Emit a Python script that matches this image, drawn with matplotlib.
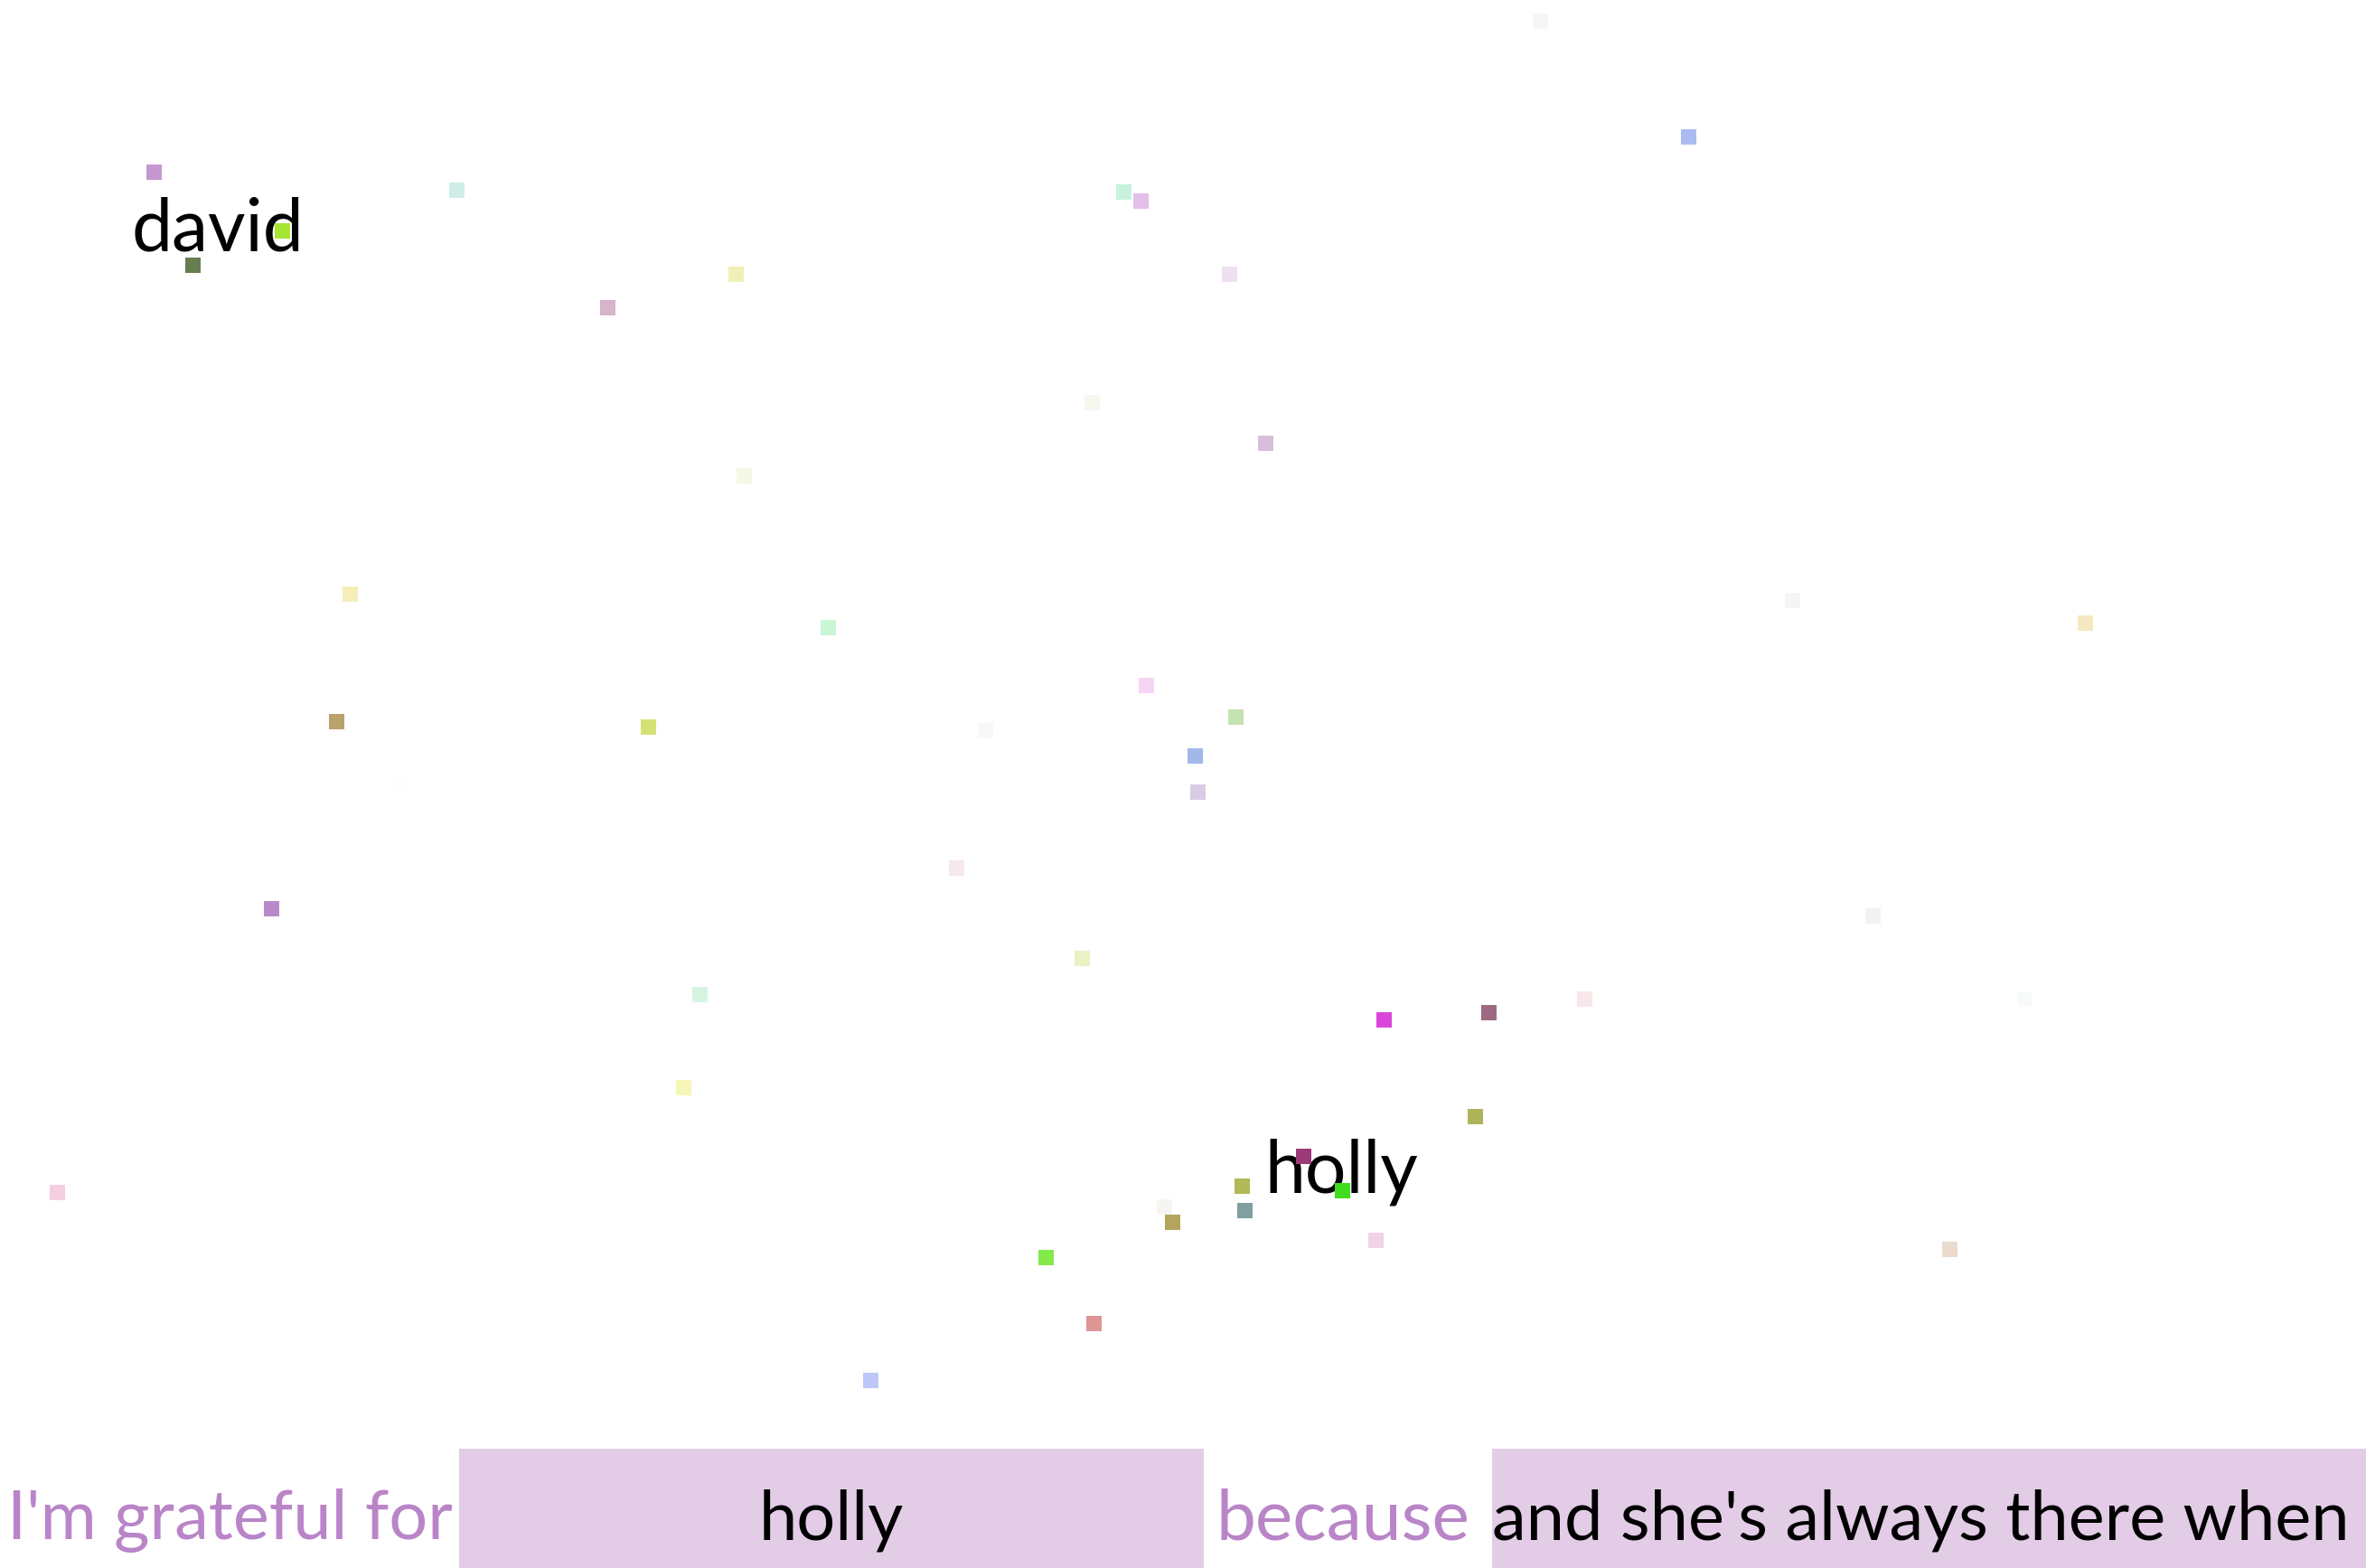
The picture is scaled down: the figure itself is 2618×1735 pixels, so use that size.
import matplotlib
matplotlib.use("Agg")
import matplotlib.pyplot as plt
from matplotlib.patches import Rectangle

# scattered squares, in reference pixel coords (1568 x 1039 canvas)
xs = [1021, 1119, 102, 303, 745, 756, 187, 128, 488, 815, 403, 724, 839, 493,
      232, 1188, 1382, 549, 760, 819, 223, 430, 653, 792, 265, 794, 634, 180,
      1241, 717, 464, 1050, 1342, 917, 987, 978, 453, 864, 823, 890, 38, 772,
      825, 777, 912, 1292, 693, 725, 577]
ys = [14, 91, 114, 126, 127, 133, 153, 176, 182, 182, 204, 267, 294, 315,
      394, 398, 413, 416, 454, 475, 478, 482, 484, 501, 520, 525, 575, 602,
      607, 635, 659, 662, 662, 676, 671, 740, 721, 766, 786, 789, 790, 800,
      802, 810, 822, 828, 833, 877, 915]
colors = ['#f7f5f5', '#aabbf2', '#c797cf', '#d0ece8', '#c7f3dd', '#e2bfe9',
          '#a7e632', '#667e4d', '#eef0b8', '#efdff2', '#d6b4c9', '#f6f8ef',
          '#d6bfd9', '#f6f8e6', '#f5eeb9', '#f5f5f5', '#f4e9c0', '#c9f7d6',
          '#f6d5f4', '#c5e2b1', '#b9a26c', '#d4e174', '#f8f8f8', '#a2b8ea',
          '#fbfefd', '#d7cce2', '#f7e8ee', '#b98ac9', '#f2f2f2', '#e8f2c4',
          '#d5f5e2', '#f8e7e9', '#f9fbfa', '#da46da', '#9c6b83', '#adb45a',
          '#f5f7b6', '#9c3b78', '#b3b859', '#40dc1f', '#f5cedf', '#f7f5f1',
          '#7f9fa0', '#b5a45c', '#f0d3e8', '#eadbcd', '#84ea4a', '#e09595',
          '#bdc8f8']

# name labels
names = ['david', 'holly']
name_x = [144, 889]
name_y = [166, 790]

# sentence at the bottom
prefix = "I'm grateful for"
chosen = 'holly'
joiner = 'because'
reason = "and she's always there when"

purple = '#b985c8'
boxcol = '#e2cce6'
font = 'Lato'

fig = plt.figure(figsize=(26.18, 17.35), dpi=100)
ax = fig.add_axes([0, 0, 1, 1])
ax.set_xlim(0, 1568)
ax.set_ylim(1039, 0)
ax.axis('off')

ax.scatter(xs, ys, s=150, c=colors, marker='s', linewidths=0, zorder=2)

for n, x, y in zip(names, name_x, name_y):
    ax.text(x, y, n, ha='center', va='baseline', fontsize=58,
            family=font, color='black', zorder=1)

ax.add_patch(Rectangle((304, 960), 494, 80, color=boxcol, lw=0))
ax.add_patch(Rectangle((989, 960), 579, 80, color=boxcol, lw=0))

fs = 54.5
ax.text(5, 1020, prefix, ha='left', va='baseline', fontsize=fs,
        family=font, color=purple)
ax.text(551, 1020, chosen, ha='center', va='baseline', fontsize=fs,
        family=font, color='black')
ax.text(806, 1020, joiner, ha='left', va='baseline', fontsize=fs + 2,
        family=font, color=purple)
ax.text(989, 1020, reason, ha='left', va='baseline', fontsize=fs,
        family=font, color='black')

fig.savefig('out.png', dpi=100)
